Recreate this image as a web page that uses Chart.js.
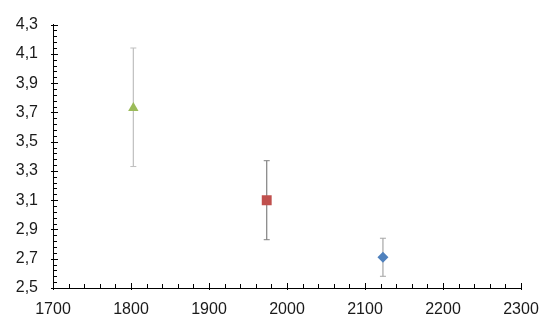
<!DOCTYPE html>
<html>
<head>
<meta charset="utf-8">
<script src="https://cdn.jsdelivr.net/npm/chart.js@4/dist/chart.umd.min.js"></script>
<style>
  html, body { margin: 0; padding: 0; background: #fff; }
  #wrap { width: 554px; height: 328px; position: relative; }
</style>
</head>
<body>
<div id="wrap"><canvas id="c"></canvas></div>
<script>
// ---- data ----
const xValues = [1803, 1974, 2123];
const yValues = [3.73, 3.10, 2.71];
const yLow    = [3.33, 2.83, 2.58];
const yHigh   = [4.14, 3.37, 2.84];
const markerStyles = ['triangle', 'rect', 'rectRot'];
const markerColors = ['#9BBB59', '#C0504D', '#4F81BD'];
const markerRadii  = [6, 7, 5.5];
const barColors    = ['#BFBFBF', '#808080', '#A6A6A6'];
const xTicks = [1700, 1800, 1900, 2000, 2100, 2200, 2300];
const yTicks = [2.5, 2.7, 2.9, 3.1, 3.3, 3.5, 3.7, 3.9, 4.1, 4.3];
const xMinorStep = 20;
const yMinorStep = 0.04;

const datasets = [];
xValues.forEach((x, i) => {
  datasets.push({
    type: 'line',
    data: [{x: x, y: yLow[i]}, {x: x, y: yHigh[i]}],
    borderColor: barColors[i],
    borderWidth: 1.2,
    pointStyle: 'line',
    pointRadius: 3,
    pointBorderColor: barColors[i],
    pointBorderWidth: 1,
    pointHoverRadius: 3,
    showLine: true,
    fill: false,
    order: 2
  });
});
xValues.forEach((x, i) => {
  datasets.push({
    type: 'scatter',
    data: [{x: x, y: yValues[i]}],
    pointStyle: markerStyles[i],
    pointRadius: markerRadii[i],
    pointHoverRadius: markerRadii[i],
    backgroundColor: markerColors[i],
    borderColor: markerColors[i],
    borderWidth: 0,
    order: 1
  });
});

const fmt = v => v.toFixed(1).replace('.', ',');

const tickPlugin = {
  id: 'axisTicks',
  afterDraw(chart) {
    const ctx = chart.ctx;
    const xs = chart.scales.x, ys = chart.scales.y;
    const ca = chart.chartArea;
    ctx.save();
    ctx.strokeStyle = '#000';
    ctx.lineWidth = 1;
    const ny = Math.round((ys.max - ys.min) / yMinorStep);
    for (let k = 0; k <= ny; k++) {
      const v = ys.min + k * yMinorStep;
      const py = Math.round(ys.getPixelForValue(v)) + 0.5;
      const major = yTicks.some(t => Math.abs(t - v) < 1e-6);
      ctx.beginPath();
      ctx.moveTo(ca.left - (major ? 2 : 0), py);
      ctx.lineTo(ca.left + (major ? 5 : 4), py);
      ctx.stroke();
    }
    const nx = Math.round((xs.max - xs.min) / xMinorStep);
    for (let k = 0; k <= nx; k++) {
      const v = xs.min + k * xMinorStep;
      const px = Math.round(xs.getPixelForValue(v)) + 0.5;
      const major = xTicks.some(t => Math.abs(t - v) < 1e-6);
      ctx.beginPath();
      ctx.moveTo(px, ca.bottom + (major ? 2 : 0));
      ctx.lineTo(px, ca.bottom - (major ? 5 : 4));
      ctx.stroke();
    }
    ctx.restore();
  }
};

new Chart(document.getElementById('c'), {
  type: 'scatter',
  data: { datasets: datasets },
  options: {
    responsive: true,
    maintainAspectRatio: false,
    animation: false,
    events: [],
    layout: { padding: { left: 0, right: 33, top: 21, bottom: 0 } },
    plugins: { legend: { display: false }, tooltip: { enabled: false } },
    scales: {
      x: {
        type: 'linear',
        min: 1700, max: 2300,
        afterBuildTicks: s => { s.ticks = xTicks.map(v => ({value: v})); },
        afterFit: s => { s.height = 40; },
        grid: { display: true, drawOnChartArea: false, drawTicks: false, color: '#000' },
        border: { display: true, color: '#000', width: 1 },
        ticks: {
          padding: 12,
          color: '#1a1a1a',
          font: { family: 'Liberation Sans, Arial, sans-serif', size: 16 },
          maxRotation: 0,
          callback: v => String(v)
        }
      },
      y: {
        type: 'linear',
        min: 2.5, max: 4.3,
        afterBuildTicks: s => { s.ticks = yTicks.map(v => ({value: v})); },
        afterFit: s => { s.width = 53; },
        grid: { display: true, drawOnChartArea: false, drawTicks: false, color: '#000' },
        border: { display: true, color: '#000', width: 1 },
        ticks: {
          padding: 15,
          color: '#1a1a1a',
          font: { family: 'Liberation Sans, Arial, sans-serif', size: 16 },
          callback: v => fmt(v)
        }
      }
    }
  },
  plugins: [tickPlugin]
});
</script>
</body>
</html>
